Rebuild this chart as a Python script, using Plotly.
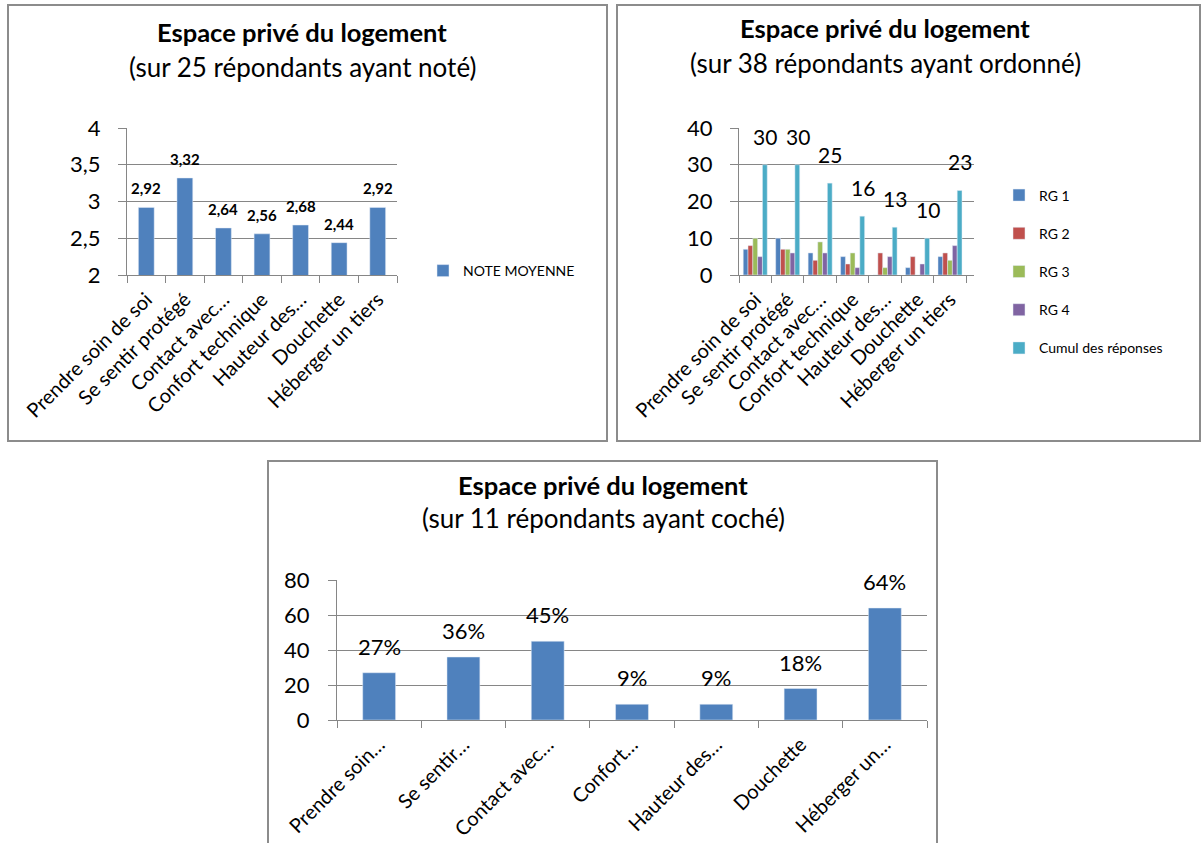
import plotly.graph_objects as go

W, H = 1204, 843

title_main = "Espace privé du logement"
sub1 = "(sur 25 répondants ayant noté)"
sub2 = "(sur 38 répondants ayant ordonné)"
sub3 = "(sur 11 répondants ayant coché)"

cats_full = ["Prendre soin de soi", "Se sentir protégé", "Contact avec…", "Confort technique",
             "Hauteur des…", "Douchette", "Héberger un tiers"]
cats_short = ["Prendre soin…", "Se sentir…", "Contact avec…", "Confort…",
              "Hauteur des…", "Douchette", "Héberger un…"]

note_moyenne = [2.92, 3.32, 2.64, 2.56, 2.68, 2.44, 2.92]

rg1 = [7, 10, 6, 5, 0, 2, 5]
rg2 = [8, 7, 4, 3, 6, 5, 6]
rg3 = [10, 7, 9, 6, 2, 0, 4]
rg4 = [5, 6, 6, 2, 5, 3, 8]
cumul = [30, 30, 25, 16, 13, 10, 23]

pct = [27, 36, 45, 9, 9, 18, 64]

BLUE, RED, GREEN, PURPLE, CYAN = "#4F81BD", "#C0504D", "#9BBB59", "#8064A2", "#4BACC6"
GRID = "#868686"
FONT = "Lato"

def px_x(p):
    return p / W

def px_y(p):
    return 1 - p / H

fig = go.Figure()

# Panel 1
fig.add_trace(go.Bar(x=cats_full, y=note_moyenne, name="NOTE MOYENNE", marker_color=BLUE,
                     width=0.41, xaxis="x", yaxis="y", legend="legend", cliponaxis=False))
# Panel 2
for vals, nm, col in [(rg1, "RG 1", BLUE), (rg2, "RG 2", RED), (rg3, "RG 3", GREEN),
                      (rg4, "RG 4", PURPLE), (cumul, "Cumul des réponses", CYAN)]:
    fig.add_trace(go.Bar(x=cats_full, y=vals, name=nm, marker_color=col, xaxis="x2", yaxis="y2",
                         legend="legend2", legendgroup=nm, cliponaxis=False))
# Panel 3
fig.add_trace(go.Bar(x=cats_short, y=pct, marker_color=BLUE, width=0.39, xaxis="x3", yaxis="y3",
                     showlegend=False, cliponaxis=False))

annotations = []
for c, v in zip(cats_full, note_moyenne):
    annotations.append(dict(x=c, y=v, xref="x", yref="y", text=f"<b>{v:.2f}</b>".replace(".", ","),
                            showarrow=False, yanchor="bottom", yshift=8,
                            font=dict(family=FONT, size=15, color="#000")))
for c, v in zip(cats_full, cumul):
    annotations.append(dict(x=c, y=v, xref="x2", yref="y2", text=str(v), showarrow=False,
                            yanchor="bottom", yshift=14, xshift=10,
                            font=dict(family=FONT, size=21, color="#000")))
for c, v in zip(cats_short, pct):
    annotations.append(dict(x=c, y=v, xref="x3", yref="y3", text=f"{v}%", showarrow=False,
                            yanchor="bottom", yshift=11,
                            font=dict(family=FONT, size=22, color="#000")))

# Titles
for cx, ty, sy, sub in [(302, 32, 67, sub1), (885, 28, 63, sub2), (603, 485, 518, sub3)]:
    annotations.append(dict(x=px_x(cx), y=px_y(ty), xref="paper", yref="paper", text=f"<b>{title_main}</b>",
                            showarrow=False, xanchor="center", yanchor="middle",
                            font=dict(family=FONT, size=25.5, color="#000")))
    annotations.append(dict(x=px_x(cx), y=px_y(sy), xref="paper", yref="paper", text=sub,
                            showarrow=False, xanchor="center", yanchor="middle",
                            font=dict(family=FONT, size=26, color="#000")))

shapes = []
for x0, y0, x1, y1 in [(8, 5, 607, 441), (617, 5, 1200, 441), (268, 461, 937, 860)]:
    shapes.append(dict(type="rect", xref="paper", yref="paper", x0=px_x(x0), x1=px_x(x1),
                       y0=px_y(y1), y1=px_y(y0), line=dict(color="#8C8C8C", width=2)))

def xax(dom, anchor, fs):
    return dict(domain=dom, anchor=anchor, type="category", tickangle=-45, showgrid=False,
                showline=True, linecolor=GRID, ticks="outside", tickson="boundaries", ticklen=7,
                tickcolor=GRID, tickfont=dict(family=FONT, size=fs, color="#000"), fixedrange=True,
                automargin=False, ticklabelstandoff=4)

def yax(dom, anchor, rng, dt, standoff):
    return dict(domain=dom, anchor=anchor, range=rng, dtick=dt, showgrid=True, gridcolor=GRID,
                gridwidth=1, showline=True, linecolor=GRID, ticks="outside", ticklen=8, tickcolor=GRID,
                tickfont=dict(family=FONT, size=22, color="#000"), zeroline=False, fixedrange=True,
                automargin=False, ticklabelstandoff=standoff)

fig.update_layout(
    width=W, height=H, margin=dict(l=0, r=0, t=0, b=0, autoexpand=False), autosize=False,
    paper_bgcolor="white", plot_bgcolor="white", separators=", ",
    barmode="group", bargap=0.26, bargroupgap=0,
    xaxis=xax([px_x(127), px_x(397)], "y", 20),
    yaxis=yax([px_y(275), px_y(128)], "x", [2, 4], 0.5, 13),
    xaxis2=xax([px_x(739), px_x(974)], "y2", 20),
    yaxis2=yax([px_y(275), px_y(128)], "x2", [0, 40], 10, 13),
    xaxis3=xax([px_x(337), px_x(927)], "y3", 20),
    yaxis3=yax([px_y(720), px_y(580)], "x3", [0, 80], 20, 14),
    legend=dict(x=px_x(423), y=px_y(271), xanchor="left", yanchor="middle",
                font=dict(family=FONT, size=14, color="#000"), bgcolor="rgba(0,0,0,0)",
                itemwidth=30),
    legend2=dict(x=px_x(999), y=px_y(271.5), xanchor="left", yanchor="middle",
                 font=dict(family=FONT, size=14, color="#000"), bgcolor="rgba(0,0,0,0)",
                 traceorder="grouped", tracegroupgap=17, itemwidth=30),
    annotations=annotations, shapes=shapes,
)

fig.write_html("out.html")
